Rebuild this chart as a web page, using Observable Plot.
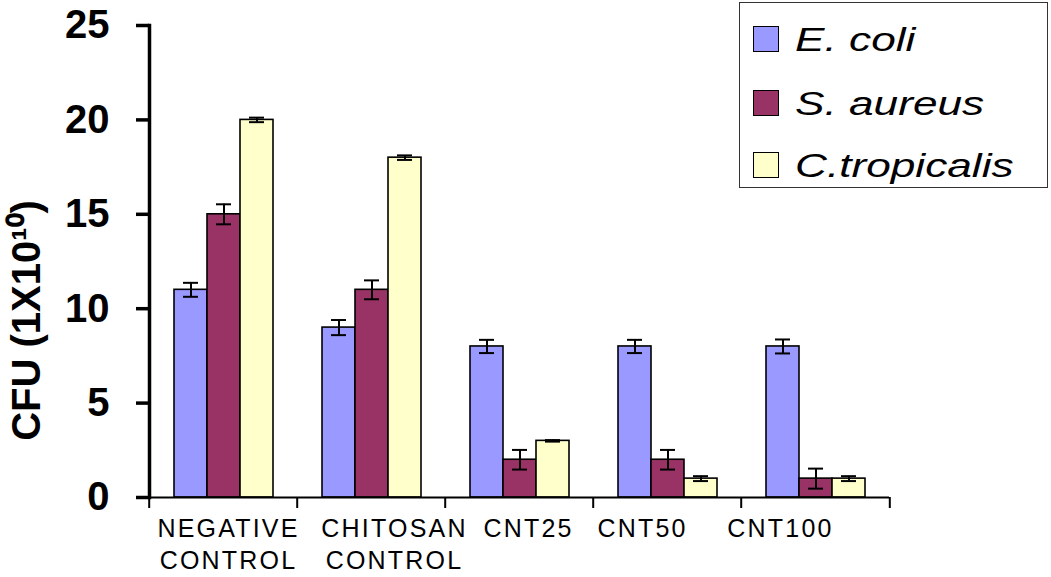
<!DOCTYPE html>
<html>
<head>
<meta charset="utf-8">
<script src="https://cdn.jsdelivr.net/npm/d3@7"></script>
<script src="https://cdn.jsdelivr.net/npm/@observablehq/plot@0.6"></script>
<style>
  html, body { margin: 0; padding: 0; background: #fff; }
  #wrap { position: relative; width: 1051px; height: 577px; font-family: "Liberation Sans", Arial, sans-serif; }
  #legend {
    position: absolute; left: 739px; top: 2px; width: 309px; height: 186px;
    border: 1.5px solid #333; background: #fff; box-sizing: border-box;
  }
  .row { position: absolute; left: 13px; height: 30px; display: flex; align-items: center; }
  .sw { width: 26px; height: 26px; border: 1.5px solid #000; box-sizing: border-box; }
  .lab { margin-left: 16px; font-style: italic; font-size: 34px; line-height: 30px; transform: scaleX(1.3); transform-origin: left center; white-space: nowrap; color: #000; }
  .chart [aria-label="fx-axis tick label"] text { letter-spacing: 2.2px; }
</style>
</head>
<body>
<div id="wrap"></div>
<script>
// ---- data ----
const groups = ["NEGATIVE\nCONTROL", "CHITOSAN\nCONTROL", "CNT25", "CNT50", "CNT100"];
const species = ["E. coli", "S. aureus", "C.tropicalis"];
const colors = ["#9999FF", "#993366", "#FFFFCC"];
const ecoli    = [11, 9, 8, 8, 8];
const saureus  = [15, 11, 2, 2, 1];
const ctrop    = [20, 18, 3, 1, 1];
const ecoliErr   = [0.37, 0.4, 0.35, 0.35, 0.37];
const saureusErr = [0.53, 0.5, 0.52, 0.52, 0.53];
const ctropErr   = [0.12, 0.12, 0.04, 0.13, 0.13];
const yTicks = [0, 5, 10, 15, 20, 25];
const yLabel = "CFU (1X10¹⁰)";

const series = [ecoli, saureus, ctrop];
const errs = [ecoliErr, saureusErr, ctropErr];
const data = [];
groups.forEach((g, gi) => species.forEach((s, si) => {
  data.push({group: g, species: s, value: series[si][gi], err: errs[si][gi]});
}));

const marginLeft = 147, marginRight = 161;
const step = (1051 - marginLeft - marginRight) / groups.length;
// the original's category labels sit slightly off-centre (layout only)
const labelShift = [5, 23, 9, -25, -35];

const chart = Plot.plot({
  className: "chart",
  width: 1051,
  height: 577,
  marginLeft, marginRight,
  marginTop: 25,
  marginBottom: 80,
  style: {fontFamily: "'Liberation Sans', Arial, sans-serif", background: "#fff", color: "#000"},
  fx: {domain: groups, padding: 0},
  x: {domain: species, paddingInner: 0, paddingOuter: 0.68, axis: null},
  y: {domain: [0, 25]},
  color: {domain: species, range: colors},
  marks: [
    Plot.barY(data, {fx: "group", x: "species", y: "value", fill: "species", stroke: "#000", strokeWidth: 1.6}),
    Plot.ruleX(data, {fx: "group", x: "species", y1: d => d.value - d.err, y2: d => d.value + d.err, stroke: "#000", strokeWidth: 2}),
    Plot.tickY(data, {fx: "group", x: "species", y: d => d.value + d.err, insetLeft: 9, insetRight: 9, stroke: "#000", strokeWidth: 2}),
    Plot.tickY(data, {fx: "group", x: "species", y: d => d.value - d.err, insetLeft: 9, insetRight: 9, stroke: "#000", strokeWidth: 2}),
    Plot.ruleY([0], {stroke: "#000", strokeWidth: 1.8}),
    Plot.frame({anchor: "left", stroke: "#000", strokeWidth: 3.5, facetAnchor: "left"}),
    Plot.axisY({ticks: yTicks, tickSize: 13, tickPadding: 27, strokeWidth: 3.5, fontSize: 40, fontWeight: "bold", label: null}),
    Plot.text([{g: groups[0], t: yLabel}], {fx: "g", text: "t", frameAnchor: "left", textAnchor: "middle", rotate: -90, dx: -122, dy: 59, fontSize: 40, fontWeight: "bold", fill: "#000"}),
    Plot.axisFx({anchor: "bottom", tickSize: 11, strokeWidth: 2, fill: "none", dx: -step / 2, label: null}),
    Plot.axisFx({anchor: "bottom", ticks: [groups[groups.length - 1]], tickSize: 11, strokeWidth: 2, fill: "none", dx: step / 2, label: null}),
    ...groups.map((g, i) =>
      Plot.axisFx({anchor: "bottom", ticks: [g], tickSize: 0, tickPadding: 16, dx: labelShift[i], fontSize: 25, lineHeight: 1.3, label: null, fill: "#000"})
    )
  ]
});
const wrap = document.getElementById("wrap");
wrap.appendChild(chart);

// legend
const legend = document.createElement("div");
legend.id = "legend";
const rowTops = [21, 85, 147];
species.forEach((s, i) => {
  const row = document.createElement("div");
  row.className = "row";
  row.style.top = rowTops[i] + "px";
  const sw = document.createElement("div");
  sw.className = "sw";
  sw.style.background = colors[i];
  const lab = document.createElement("span");
  lab.className = "lab";
  lab.textContent = s;
  row.appendChild(sw);
  row.appendChild(lab);
  legend.appendChild(row);
});
wrap.appendChild(legend);
</script>
</body>
</html>
